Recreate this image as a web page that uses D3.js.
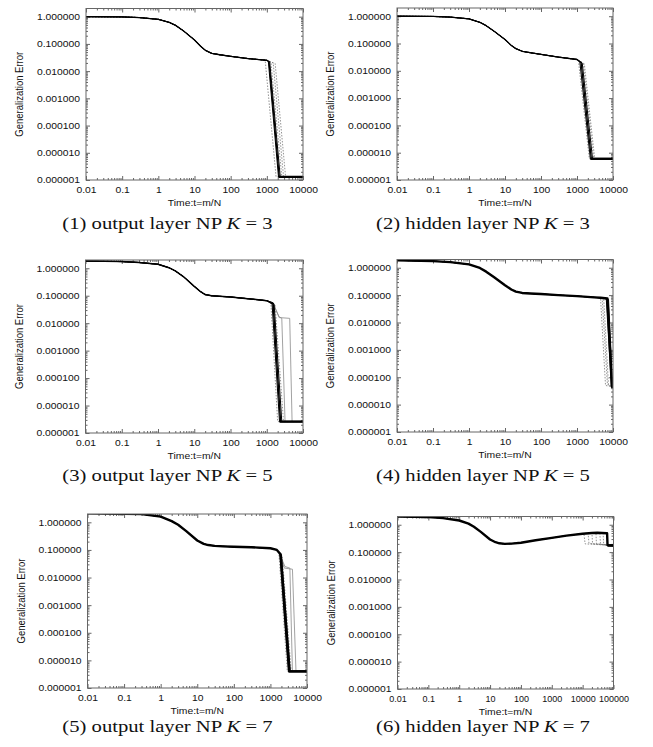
<!DOCTYPE html>
<html>
<head>
<meta charset="utf-8">
<script src="https://cdn.jsdelivr.net/npm/d3@7"></script>
<style>
body{margin:0;background:#fff;}
svg{display:block;}
.tick text{font-family:"Liberation Sans",Arial,sans-serif;font-size:9px;fill:#111;}
.lab{font-family:"Liberation Sans",Arial,sans-serif;font-size:9px;fill:#111;}
.cap{font-family:"Liberation Serif","Times New Roman",serif;font-size:17.5px;fill:#111;}
</style>
</head>
<body>
<svg id="fig" width="653" height="747"></svg>
<script>
// tick values
const xTicks6 = [0.01, 0.1, 1, 10, 100, 1000, 10000];
const xTicks7 = [0.01, 0.1, 1, 10, 100, 1000, 10000, 100000];
const yTicks = [1e-6, 1e-5, 1e-4, 1e-3, 1e-2, 1e-1, 1];

// (1) output layer NP K=3 -- shared early part, then each run's drop
const p1Time = [0.01, 0.1, 0.3, 1, 2, 3, 5, 10, 15, 20, 30, 50, 100, 300, 1000];
const p1Err  = [1.0, 0.98, 0.93, 0.8, 0.62, 0.48, 0.3, 0.14, 0.08, 0.058, 0.045, 0.04, 0.035, 0.029, 0.025];
const p1Runs = [
  [[900, 0.025], [1800, 1.3e-6]],
  [[1300, 0.021], [2600, 1.3e-6]],
  [[1500, 0.02], [2900, 1.3e-6]],
  [[1700, 0.019], [3300, 1.3e-6]],
  [[1150, 0.022], [2200, 1.3e-6]],
  [[1200, 0.022], [2350, 1.3e-6]],
  [[1100, 0.023], [2100, 1.3e-6]]
];
const p1Floor = 1.3e-6;

// (2) hidden layer NP K=3
const p2Time = [0.01, 0.1, 0.3, 1, 2, 3, 5, 10, 15, 20, 30, 50, 100, 300, 1000];
const p2Err  = [1.0, 0.98, 0.93, 0.8, 0.6, 0.45, 0.28, 0.14, 0.085, 0.065, 0.052, 0.046, 0.04, 0.032, 0.026];
const p2Runs = [
  [[1100, 0.022], [2200, 6e-6]],
  [[1500, 0.019], [2900, 6e-6]],
  [[1600, 0.018], [3100, 6e-6]],
  [[1300, 0.02], [2500, 6e-6]],
  [[1400, 0.019], [2700, 6e-6]],
  [[1200, 0.021], [2350, 6e-6]]
];
const p2Floor = 6e-6;

// (3) output layer NP K=5
const p3Time = [0.01, 0.1, 0.3, 1, 2, 3, 5, 10, 15, 20, 30, 50, 100, 300, 1000, 1500];
const p3Err  = [1.84, 1.75, 1.62, 1.4, 1.05, 0.8, 0.5, 0.22, 0.14, 0.11, 0.1, 0.095, 0.09, 0.078, 0.066, 0.055];
const p3Runs = [
  [[1300, 0.053], [2000, 2.6e-6]],
  [[1700, 0.045], [2900, 2.6e-6]],
  [[1800, 0.03], [2200, 0.017], [2600, 0.015], [3200, 2.6e-6]],
  [[1800, 0.03], [2200, 0.016], [4300, 0.015], [5000, 2.6e-6]],
  [[1500, 0.05], [2400, 2.6e-6]],
  [[1600, 0.048], [2600, 2.6e-6]],
  [[1400, 0.052], [2250, 2.6e-6]]
];
const p3Floor = 2.6e-6;

// (4) hidden layer NP K=5
const p4Time = [0.01, 0.1, 0.3, 1, 2, 3, 5, 10, 15, 20, 30, 50, 100, 300, 1000, 3000, 4500];
const p4Err  = [1.86, 1.75, 1.6, 1.33, 0.98, 0.72, 0.45, 0.23, 0.16, 0.135, 0.12, 0.115, 0.11, 0.1, 0.092, 0.083, 0.08];
const p4Runs = [
  [[4500, 0.08], [6200, 5e-5]],
  [[5000, 0.078], [7000, 5.5e-5]],
  [[5500, 0.077], [7500, 5e-5]],
  [[7000, 0.075], [9300, 4.5e-5]],
  [[7500, 0.07], [9800, 4.2e-5]],
  [[6500, 0.075], [9000, 5e-5]]
];
const p4Floor = 4.5e-5;

// (5) output layer NP K=7
const p5Time = [0.01, 0.1, 0.3, 1, 2, 3, 5, 10, 15, 20, 30, 50, 100, 300, 1000, 1500];
const p5Err  = [2.1, 2.05, 2.0, 1.6, 1.1, 0.82, 0.48, 0.22, 0.165, 0.15, 0.14, 0.135, 0.13, 0.125, 0.115, 0.1];
const p5Runs = [
  [[1700, 0.08], [2900, 4e-6]],
  [[2100, 0.06], [3700, 4e-6]],
  [[2000, 0.05], [2400, 0.022], [4000, 0.02], [5000, 4e-6]],
  [[2000, 0.05], [2500, 0.025], [3400, 0.022], [4000, 4e-6]],
  [[1900, 0.07], [3300, 4e-6]],
  [[2000, 0.065], [3500, 4e-6]],
  [[1800, 0.075], [3100, 4e-6]]
];
const p5Floor = 4e-6;

// (6) hidden layer NP K=7
const p6Time = [0.01, 0.1, 0.3, 1, 2, 3, 5, 10, 15, 20, 30, 50, 100, 300, 1000, 3000, 10000, 20000, 30000, 60000, 100000];
const p6Err  = [2.0, 1.9, 1.75, 1.43, 1.1, 0.85, 0.55, 0.29, 0.23, 0.21, 0.2, 0.205, 0.22, 0.27, 0.33, 0.4, 0.47, 0.5, 0.51, 0.49, 0.48];
const p6Runs = [
  [[11000, 0.48], [12000, 0.2]],
  [[15000, 0.5], [16000, 0.21]],
  [[20000, 0.5], [21000, 0.2]],
  [[27000, 0.51], [28000, 0.2]],
  [[36000, 0.5], [38000, 0.19]],
  [[46000, 0.5], [48000, 0.19]],
  [[62000, 0.49], [64000, 0.18]]
];
const p6Floor = 0.175;

// g = gray dotted, s = gray solid, k = black
const panels = [
  {time: p1Time, err: p1Err, runs: p1Runs, floor: p1Floor, kinds: "ggggkkk", x0: 86, x1: 303, y0: 8.5, y1: 180, xMax: 1e4, xt: xTicks6, lw: 1.3, cap: "(1) output layer NP ", kv: "3", cx: 167.5, cy: 228.5},
  {time: p2Time, err: p2Err, runs: p2Runs, floor: p2Floor, kinds: "gggkkk", x0: 397, x1: 613, y0: 8, y1: 180, xMax: 1e4, xt: xTicks6, lw: 1.3, cap: "(2) hidden layer NP ", kv: "3", cx: 483, cy: 228.5},
  {time: p3Time, err: p3Err, runs: p3Runs, floor: p3Floor, kinds: "ggsskkk", x0: 85.5, x1: 303, y0: 260, y1: 433, xMax: 1e4, xt: xTicks6, lw: 1.5, cap: "(3) output layer NP ", kv: "5", cx: 167.5, cy: 481},
  {time: p4Time, err: p4Err, runs: p4Runs, floor: p4Floor, kinds: "gggkkk", x0: 397, x1: 613, y0: 259.5, y1: 432, xMax: 1e4, xt: xTicks6, lw: 2.4, cap: "(4) hidden layer NP ", kv: "5", cx: 483, cy: 481},
  {time: p5Time, err: p5Err, runs: p5Runs, floor: p5Floor, kinds: "ggsskkk", x0: 87.5, x1: 307, y0: 514, y1: 688, xMax: 1e4, xt: xTicks6, lw: 2.4, cap: "(5) output layer NP ", kv: "7", cx: 167.5, cy: 732},
  {time: p6Time, err: p6Err, runs: p6Runs, floor: p6Floor, kinds: "ggggggk", x0: 397.5, x1: 613.5, y0: 516.5, y1: 689, xMax: 1e5, xt: xTicks7, lw: 2.4, cap: "(6) hidden layer NP ", kv: "7", cx: 483, cy: 732}
];

const svg = d3.select("#fig");
const frameColor = "#666";
const stretch = 1.15;   // the reference text is wider than it is tall
const yFmt = d3.format(".6f");
const xFmt = d => d < 1 ? String(d) : d3.format("d")(d);

function minors(lo, hi) {
  var out = [];
  for (var e = Math.round(Math.log10(lo)); e < Math.round(Math.log10(hi)); e++)
    for (var m = 2; m <= 9; m++) out.push(m * Math.pow(10, e));
  return out;
}

panels.forEach(function(p, i) {
  var w = p.x1 - p.x0, h = p.y1 - p.y0;
  var x = d3.scaleLog().domain([0.01, p.xMax]).range([0, w]);
  var y = d3.scaleLog().domain([1e-6, 2]).range([h, 0]);
  var g = svg.append("g").attr("transform", "translate(" + p.x0 + "," + p.y0 + ")");

  g.append("clipPath").attr("id", "clip" + i)
    .append("rect").attr("width", w).attr("height", h);

  // major ticks with labels, minor ticks, mirrored on top/right
  var xmin = minors(0.01, p.xMax), ymin = minors(1e-6, 1);
  var xs = p.xMax > 1e4 ? 1 : stretch;
  g.append("g").attr("transform", "translate(0," + h + ")")
    .call(d3.axisBottom(x).tickValues(p.xt).tickFormat(xFmt).tickSizeInner(-4).tickSizeOuter(0).tickPadding(6.5))
    .selectAll(".tick text").attr("transform", "scale(" + xs + ",1)");
  g.append("g").attr("transform", "translate(0," + h + ")")
    .call(d3.axisBottom(x).tickValues(xmin).tickFormat("").tickSizeInner(-2).tickSizeOuter(0));
  g.append("g")
    .call(d3.axisTop(x).tickValues(p.xt).tickFormat("").tickSizeInner(-4).tickSizeOuter(0));
  g.append("g")
    .call(d3.axisTop(x).tickValues(xmin).tickFormat("").tickSizeInner(-2).tickSizeOuter(0));
  g.append("g")
    .call(d3.axisLeft(y).tickValues(yTicks).tickFormat(yFmt).tickSizeInner(-4).tickSizeOuter(0))
    .selectAll(".tick text").attr("x", -6 / stretch).attr("transform", "scale(" + stretch + ",1)");
  g.append("g")
    .call(d3.axisLeft(y).tickValues(ymin).tickFormat("").tickSizeInner(-2).tickSizeOuter(0));
  g.append("g").attr("transform", "translate(" + w + ",0)")
    .call(d3.axisRight(y).tickValues(yTicks).tickFormat("").tickSizeInner(-4).tickSizeOuter(0));
  g.append("g").attr("transform", "translate(" + w + ",0)")
    .call(d3.axisRight(y).tickValues(ymin).tickFormat("").tickSizeInner(-2).tickSizeOuter(0));
  g.selectAll(".domain").remove();
  g.selectAll(".tick line").attr("stroke", frameColor);

  var line = d3.line().x(function(d) { return x(d[0]); }).y(function(d) { return y(d[1]); });
  var common = p.time.map(function(t, j) { return [t, p.err[j]]; });

  var runs = p.runs.map(function(tail, j) {
    var pts = common.filter(function(d) { return d[0] < tail[0][0]; }).concat(tail);
    if (pts[pts.length - 1][0] < p.xMax) pts.push([p.xMax, p.floor]);
    return {pts: pts, kind: p.kinds[j]};
  });

  var curves = g.append("g").attr("clip-path", "url(#clip" + i + ")");
  runs.filter(function(r) { return r.kind != "k"; }).forEach(function(r) {
    curves.append("path").attr("d", line(r.pts))
      .attr("fill", "none")
      .attr("stroke", r.kind == "g" ? "#777" : "#8a8a8a")
      .attr("stroke-width", 0.8)
      .attr("stroke-dasharray", r.kind == "g" ? "1.5,1.5" : null);
  });
  runs.filter(function(r) { return r.kind == "k"; }).forEach(function(r, j) {
    curves.append("path").attr("d", line(r.pts))
      .attr("fill", "none")
      .attr("stroke", "#000")
      .attr("stroke-width", j == 0 ? p.lw : 1)
      .attr("stroke-linejoin", "round");
  });
  // noisy floor band after convergence
  var blacks = runs.filter(function(r) { return r.kind == "k"; });
  var land = d3.min(blacks, function(r) { return r.pts[r.pts.length - 2][0]; });
  curves.append("path").attr("d", line([[land, p.floor], [p.xMax, p.floor]]))
    .attr("fill", "none").attr("stroke", "#000").attr("stroke-width", 2.4);

  g.append("rect").attr("width", w).attr("height", h)
    .attr("fill", "none").attr("stroke", frameColor).attr("stroke-width", 1);

  g.append("text").attr("class", "lab")
    .attr("transform", "translate(" + (w / 2) + "," + (h + 25.5) + ") scale(" + stretch + ",1)")
    .attr("text-anchor", "middle")
    .text("Time:t=m/N");
  g.append("text").attr("class", "lab")
    .style("font-size", "9.5px")
    .attr("transform", "translate(-66.5," + (h / 2) + ") scale(" + stretch + ",1) rotate(-90)")
    .attr("text-anchor", "middle").attr("dy", "0.35em")
    .text("Generalization Error");

  var cap = svg.append("text").attr("class", "cap")
    .attr("transform", "translate(" + p.cx + "," + p.cy + ") scale(1.18,1)")
    .attr("text-anchor", "middle");
  cap.append("tspan").text(p.cap);
  cap.append("tspan").attr("font-style", "italic").text("K");
  cap.append("tspan").text(" = " + p.kv);
});
</script>
</body>
</html>
